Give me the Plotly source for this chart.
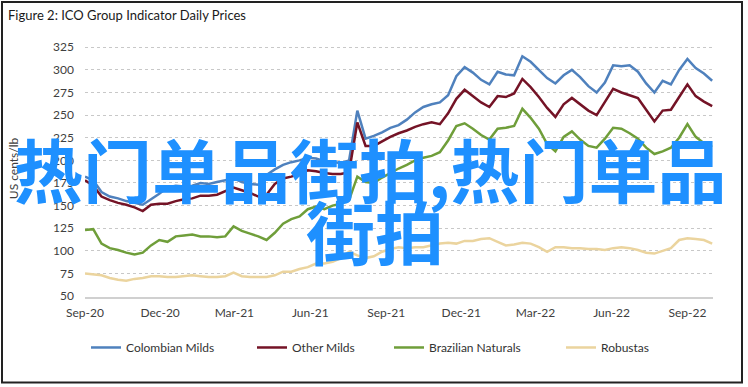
import pandas as pd
import plotly.graph_objects as go

# ---- data (~10-day samples) ----
start_date = "2020-09-01"
n_points = 77
dates = pd.date_range(start_date, periods=n_points, freq="10D")

colombian_milds = [182, 178, 165, 160, 158, 155, 153, 151, 157, 163,
                   170, 172, 171, 172, 175, 174, 176, 178, 180, 176,
                   174, 173, 184, 190, 195, 198, 200, 203, 202, 199,
                   198, 197, 200, 255, 224, 227, 231, 236, 239, 245,
                   253, 259, 262, 264, 272, 293, 303, 297, 289, 284,
                   298, 295, 294, 315, 309, 300, 291, 285, 294, 300,
                   292, 282, 275, 286, 305, 304, 305, 298, 285, 275,
                   288, 284, 300, 312, 302, 296, 288]

other_milds = [178, 172, 160, 156, 153, 151, 148, 144, 151, 152,
               152, 155, 157, 158, 161, 161, 162, 166, 170, 167,
               164, 160, 162, 174, 180, 182, 185, 189, 188, 186,
               185, 185, 187, 242, 216, 216, 221, 226, 230, 233,
               237, 240, 242, 240, 252, 268, 278, 271, 264, 259,
               271, 270, 274, 290, 281, 270, 258, 248, 262, 269,
               262, 255, 250, 264, 279, 275, 272, 269, 256, 243,
               255, 256, 270, 284, 271, 265, 260]

brazilian_naturals = [123, 124, 108, 103, 101, 98, 96, 98, 106, 112,
                      110, 116, 117, 118, 116, 116, 115, 116, 127, 122,
                      119, 116, 112, 120, 130, 135, 138, 146, 149, 146,
                      150, 152, 156, 182, 176, 175, 181, 186, 191, 195,
                      200, 203, 205, 209, 222, 238, 241, 235, 228, 223,
                      235, 236, 238, 257, 247, 235, 218, 210, 226, 232,
                      223, 216, 214, 224, 236, 235, 230, 224, 214, 207,
                      210, 214, 225, 240, 226, 219, 215]

robustas = [75, 74, 73, 70, 68, 67, 69, 70, 72, 72,
            71, 71, 72, 73, 72, 71, 71, 72, 76, 72,
            71, 71, 71, 73, 77, 77, 80, 82, 86, 86,
            88, 92, 99, 95, 92, 94, 99, 102, 104, 103,
            104, 104, 106, 108, 109, 108, 111, 111, 113, 114,
            110, 106, 107, 109, 108, 104, 99, 104, 104, 103,
            103, 102, 102, 101, 103, 104, 103, 101, 98, 97,
            100, 103, 112, 114, 113, 112, 108]

series_names = ["Colombian Milds", "Other Milds", "Brazilian Naturals", "Robustas"]
series_values = [colombian_milds, other_milds, brazilian_naturals, robustas]
series_colors = ["#4F81BD", "#741326", "#6F9E3A", "#EBD49E"]

y_ticks = [50, 75, 100, 125, 150, 175, 200, 225, 250, 275, 300, 325]

title_text = "Figure 2: ICO Group Indicator Daily Prices"
y_title = "US cents/lb"
watermark_1 = "热门单品街拍,热门单品"
watermark_2 = "街拍"

# ---- figure ----
W, H = 748, 387
L, R, T, B = 85, 35, 46, 90.4
plot_w = W - L - R
plot_h = H - T - B

def px_x(px):
    return (px - L) / plot_w

def px_y(py):
    return (H - B - py) / plot_h

legend_names = ["legend", "legend2", "legend3", "legend4"]
legend_left_px = [86, 252, 389, 561]

fig = go.Figure()
for name, vals, col, lg in zip(series_names, series_values, series_colors, legend_names):
    fig.add_trace(go.Scatter(
        x=dates, y=vals, name=name, mode="lines",
        line=dict(color=col, width=2.5),
        legend=lg,
    ))

legend_font = dict(family="Lato", size=12, color="#333333")
legend_layout = {}
for lg, lp in zip(legend_names, legend_left_px):
    legend_layout[lg] = dict(
        x=px_x(lp), y=px_y(347), xanchor="left", yanchor="middle",
        orientation="h", font=legend_font, bgcolor="rgba(0,0,0,0)",
        borderwidth=0,
    )

fig.update_layout(
    width=W, height=H,
    margin=dict(l=L, r=R, t=T, b=B, autoexpand=False),
    paper_bgcolor="white", plot_bgcolor="white",
    font=dict(family="Lato", size=12, color="#404040"),
    title=dict(text=title_text, xref="container", yref="container",
               x=8 / W, y=1 - 15 / H, xanchor="left", yanchor="middle",
               font=dict(family="Lato", size=13, color="#1a1a1a")),
    showlegend=True,
    **legend_layout,
)

fig.update_xaxes(
    type="date",
    range=["2020-09-01", "2022-10-02"],
    tick0="2020-09-01", dtick="M3", tickformat="%b-%y",
    showgrid=False, showline=True, linecolor="#D0D0D0", linewidth=1.5,
    ticks="", ticklabelstandoff=4,
    tickfont=dict(family="Lato", size=12, color="#404040"),
    zeroline=False, automargin=False,
)
fig.update_yaxes(
    range=[49, 326.4], tickvals=y_ticks,
    showgrid=True, gridcolor="#C8C8C8", griddash="dot", gridwidth=1,
    showline=False, zeroline=False, ticks="",
    ticklabelstandoff=10, automargin=False,
    tickfont=dict(family="Lato", size=12, color="#404040"),
)

fig.add_annotation(
    text=y_title, xref="paper", yref="paper",
    x=px_x(13), y=px_y(168), textangle=-90, showarrow=False,
    xanchor="center", yanchor="middle",
    font=dict(family="Lato", size=12, color="#404040"),
)

wm_font = dict(family="Noto Sans CJK SC", size=69, color="#1E90FF", weight=700)
fig.add_annotation(text=watermark_1, xref="paper", yref="paper",
                   x=px_x(370), y=px_y(168), showarrow=False,
                   xanchor="center", yanchor="middle", font=wm_font)
fig.add_annotation(text=watermark_2, xref="paper", yref="paper",
                   x=px_x(375), y=px_y(230), showarrow=False,
                   xanchor="center", yanchor="middle", font=wm_font)

# outer frame
fig.add_shape(type="rect", xref="paper", yref="paper",
              x0=px_x(2), x1=px_x(742), y0=px_y(382), y1=px_y(2),
              line=dict(color="#222222", width=2), layer="above")

fig.write_html("out.html", config={"displayModeBar": False},
               post_script="document.body.style.margin='0px';")
